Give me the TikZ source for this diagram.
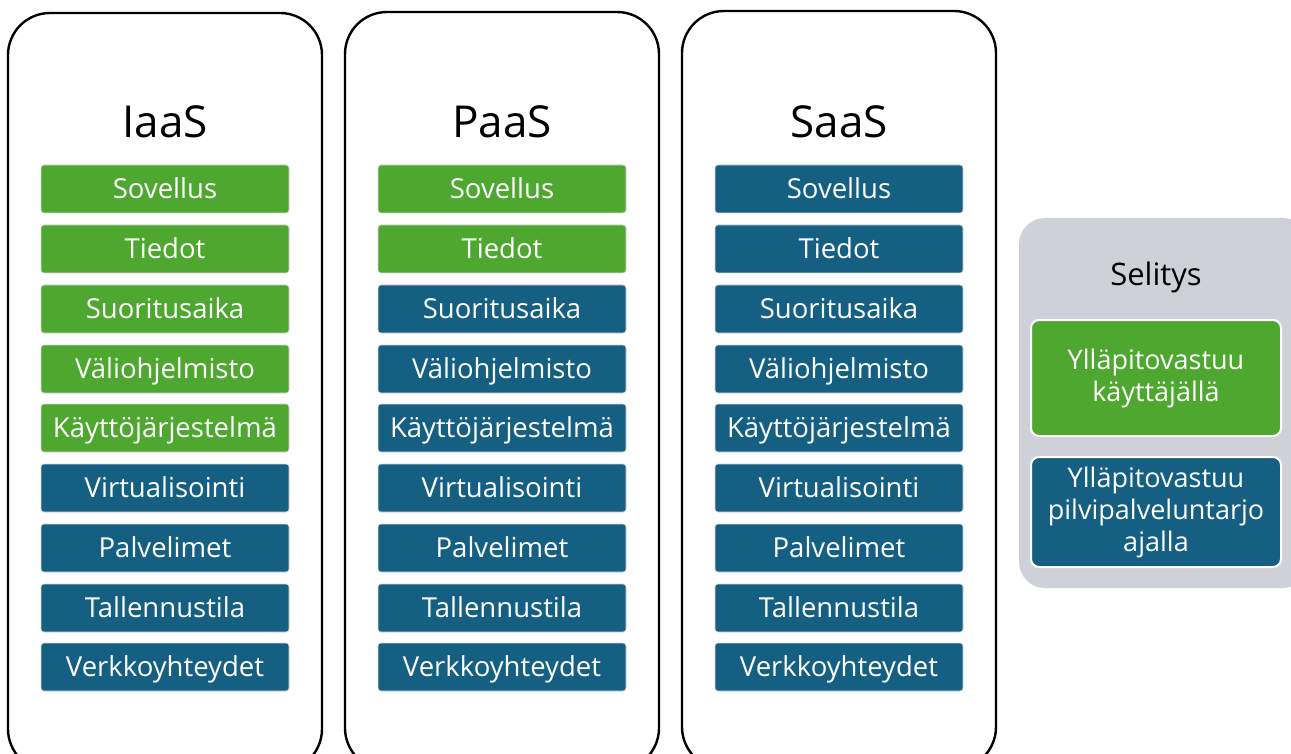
\documentclass[tikz,border=0pt]{standalone}
\usepackage{fontspec}
\setmainfont{Open Sans}
\usepackage{xcolor}
\definecolor{usergreen}{HTML}{4EA72E}
\definecolor{cloudblue}{HTML}{156082}
\definecolor{legendgray}{HTML}{CED2D8}

\tikzset{
  column/.style={draw=black,line width=2.4pt,rounded corners=42pt,fill=white,
    minimum width=314pt,minimum height=758pt,inner sep=0pt},
  coltitle/.style={font=\fontsize{44}{48}\selectfont,anchor=base},
  layer/.style={draw=white!85!black,line width=0.6pt,rounded corners=3pt,text=white,
    minimum width=248pt,minimum height=48pt,inner sep=0pt,
    font=\fontsize{27.5}{30}\selectfont,text height=24pt,text depth=5pt},
  own/.style={layer,fill=usergreen},
  prov/.style={layer,fill=cloudblue},
  legendbox/.style={draw=white,line width=2pt,rounded corners=8pt,text=white,
    minimum width=250pt,inner sep=0pt,align=center,
    font=\fontsize{27}{32}\selectfont}
}

\begin{document}
\begin{tikzpicture}[x=1pt,y=-1pt]
	\useasboundingbox (0,0) rectangle (1291,754);
	\begin{scope}
	\clip (0,0) rectangle (1291,754);
	% Columns
	\node (iaas) [column] at (165,392) {};
	\node (paas) [column] at (502,391) {};
	\node (saas) [column] at (839,390) {};
	% Legend
	\node (legend) [fill=legendgray,rounded corners=26pt,minimum width=290pt,
	  minimum height=370pt,inner sep=0pt] at (1164,403) {};
	\end{scope}

	% IaaS
	\node (iaas-t) [coltitle] at (165,138) {IaaS};
	\node (iaas-1) [own] at (165,189) {Sovellus};
	\node (iaas-2) [own] at (165,249) {Tiedot};
	\node (iaas-3) [own] at (165,309) {Suoritusaika};
	\node (iaas-4) [own] at (165,369) {Väliohjelmisto};
	\node (iaas-5) [own] at (165,428) {Käyttöjärjestelmä};
	\node (iaas-6) [prov] at (165,488) {Virtualisointi};
	\node (iaas-7) [prov] at (165,548) {Palvelimet};
	\node (iaas-8) [prov] at (165,608) {Tallennustila};
	\node (iaas-9) [prov] at (165,667) {Verkkoyhteydet};

	% PaaS
	\node (paas-t) [coltitle] at (502,138) {PaaS};
	\node (paas-1) [own] at (502,189) {Sovellus};
	\node (paas-2) [own] at (502,249) {Tiedot};
	\node (paas-3) [prov] at (502,309) {Suoritusaika};
	\node (paas-4) [prov] at (502,369) {Väliohjelmisto};
	\node (paas-5) [prov] at (502,428) {Käyttöjärjestelmä};
	\node (paas-6) [prov] at (502,488) {Virtualisointi};
	\node (paas-7) [prov] at (502,548) {Palvelimet};
	\node (paas-8) [prov] at (502,608) {Tallennustila};
	\node (paas-9) [prov] at (502,667) {Verkkoyhteydet};

	% SaaS
	\node (saas-t) [coltitle] at (839,138) {SaaS};
	\node (saas-1) [prov] at (839,189) {Sovellus};
	\node (saas-2) [prov] at (839,249) {Tiedot};
	\node (saas-3) [prov] at (839,309) {Suoritusaika};
	\node (saas-4) [prov] at (839,369) {Väliohjelmisto};
	\node (saas-5) [prov] at (839,428) {Käyttöjärjestelmä};
	\node (saas-6) [prov] at (839,488) {Virtualisointi};
	\node (saas-7) [prov] at (839,548) {Palvelimet};
	\node (saas-8) [prov] at (839,608) {Tallennustila};
	\node (saas-9) [prov] at (839,667) {Verkkoyhteydet};

	% Selitys
	\node (legend-t) [font=\fontsize{31}{34}\selectfont,anchor=base] at (1156,285) {Selitys};
	\node (legend-own) [legendbox,fill=usergreen,minimum height=116pt] at (1156,378)
	  {Ylläpitovastuu\\käyttäjällä};
	\node (legend-prov) [legendbox,fill=cloudblue,minimum height=110pt] at (1156,512)
	  {Ylläpitovastuu\\pilvipalveluntarjo\\ajalla};
\end{tikzpicture}
\end{document}
